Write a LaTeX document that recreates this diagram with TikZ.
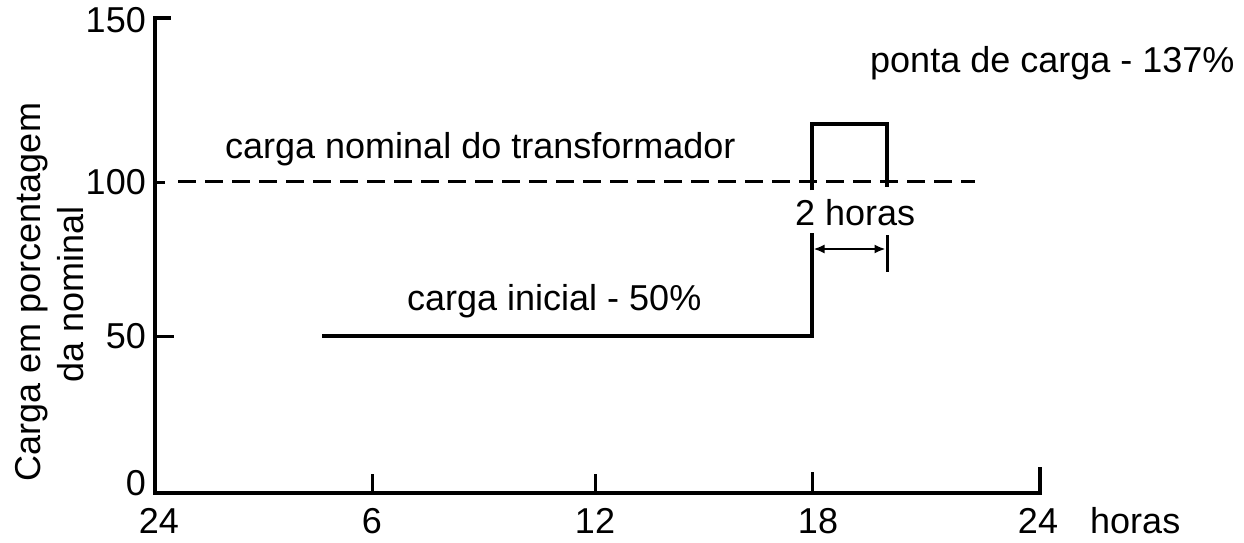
\documentclass[tikz,border=0pt]{standalone}
\usepackage{fontspec}
\setmainfont{Liberation Sans}
\usetikzlibrary{arrows.meta}
\begin{document}
\begin{tikzpicture}[x=1pt,y=-1pt,
  lbl/.style={font=\fontsize{36}{43}\selectfont, inner sep=0pt},
  axisline/.style={line width=4pt, line cap=rect},
  curve/.style={line width=3.5pt, line join=miter},
  nominal/.style={line width=3pt, dash pattern=on 18pt off 9pt},
  tickmark/.style={line width=3pt},
  span/.style={line width=2pt, {Latex[length=11pt,width=9pt]}-{Latex[length=11pt,width=9pt]}}]
\useasboundingbox (0,0) rectangle (1244,542);
% axes
\coordinate (top) at (155,18);
\coordinate (orig) at (155,493);
\coordinate (xend) at (1040,493);
\draw[axisline] (169,18) -- (top) -- (orig) -- (xend) -- (1040,469);
% y ticks
\draw[tickmark] (155,182) -- (165,182);
\draw[tickmark] (155,336) -- (174,336);
% x ticks
\draw[tickmark] (372,493) -- (372,474);
\draw[tickmark] (595,493) -- (595,474);
\draw[tickmark] (812,493) -- (812,472);
% y labels
\node[lbl, anchor=east] (y150) at (146,20) {150};
\node[lbl, anchor=east] (y100) at (146,182) {100};
\node[lbl, anchor=east] (y50) at (146,336) {50};
\node[lbl, anchor=east] (y0) at (146,483) {0};
% x labels
\node[lbl, anchor=base] (x0) at (159,533) {24};
\node[lbl, anchor=base] (x6) at (372,533) {6};
\node[lbl, anchor=base] (x12) at (595,533) {12};
\node[lbl, anchor=base] (x18) at (818,533) {18};
\node[lbl, anchor=base] (x24) at (1038,533) {24};
\node[lbl, anchor=base west] (horas) at (1090,533) {horas};
% axis title
\node[lbl, rotate=90, anchor=base] (yt1) at (40,292) {Carga em porcentagem};
\node[lbl, rotate=90, anchor=base] (yt2) at (83,294) {da nominal};
% nominal load
\coordinate (n0) at (178,181);
\coordinate (n1) at (975,181);
\draw[nominal] (n0) -- (n1);
\node[lbl, anchor=base west] (nomtxt) at (225,158) {carga nominal do transformador};
% load curve
\coordinate (c0) at (322,336);
\coordinate (c1) at (812,336);
\coordinate (c2) at (812,233);
\coordinate (c3) at (812,190);
\coordinate (c4) at (812,124);
\coordinate (c5) at (887,124);
\coordinate (c6) at (887,187);
\draw[curve] (c0) -- (c1) -- (c2);
\draw[curve] (c3) -- (c4) -- (c5) -- (c6);
\coordinate (t0) at (887,235);
\coordinate (t1) at (887,272);
\draw[tickmark] (t0) -- (t1);
\coordinate (a0) at (813.5,249);
\coordinate (a1) at (885.5,249);
\draw[span] (a0) -- (a1);
\node[lbl, anchor=base west] (hrs) at (795,225) {2 horas};
\node[lbl, anchor=base west] (initxt) at (407,310) {carga inicial - 50\%};
\node[lbl, anchor=base west] (peaktxt) at (870,72) {ponta de carga - 137\%};
\end{tikzpicture}
\end{document}
